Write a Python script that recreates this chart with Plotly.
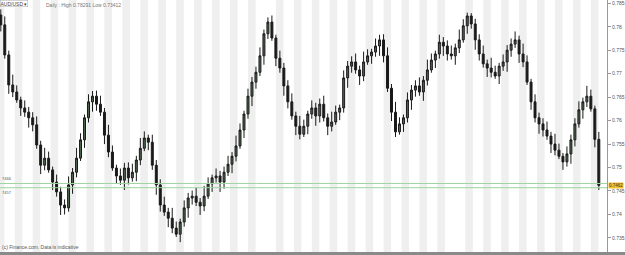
import plotly.graph_objects as go

# ---- data ----
first_open = 0.7825
closes = [0.7804, 0.7740, 0.7676, 0.7661, 0.7644, 0.7627, 0.7618, 0.7606, 0.7591, 0.7548,
          0.7505, 0.7520, 0.7495, 0.7469, 0.7448, 0.7420, 0.7414, 0.7463, 0.7490, 0.7520,
          0.7559, 0.7606, 0.7640, 0.7652, 0.7635, 0.7618, 0.7569, 0.7533, 0.7499, 0.7482,
          0.7473, 0.7499, 0.7478, 0.7490, 0.7516, 0.7541, 0.7563, 0.7554, 0.7505, 0.7463,
          0.7420, 0.7405, 0.7392, 0.7371, 0.7358, 0.7384, 0.7414, 0.7435, 0.7439, 0.7426,
          0.7418, 0.7439, 0.7465, 0.7478, 0.7482, 0.7469, 0.7490, 0.7507, 0.7524, 0.7546,
          0.7580, 0.7614, 0.7652, 0.7682, 0.7703, 0.7738, 0.7785, 0.7810, 0.7776, 0.7733,
          0.7712, 0.7674, 0.7640, 0.7610, 0.7588, 0.7571, 0.7588, 0.7614, 0.7627, 0.7610,
          0.7635, 0.7606, 0.7588, 0.7597, 0.7618, 0.7627, 0.7691, 0.7716, 0.7725, 0.7708,
          0.7695, 0.7725, 0.7738, 0.7746, 0.7759, 0.7772, 0.7738, 0.7669, 0.7618, 0.7576,
          0.7593, 0.7606, 0.7644, 0.7665, 0.7674, 0.7661, 0.7686, 0.7708, 0.7729, 0.7742,
          0.7767, 0.7759, 0.7742, 0.7738, 0.7755, 0.7772, 0.7802, 0.7823, 0.7806, 0.7772,
          0.7742, 0.7721, 0.7712, 0.7703, 0.7695, 0.7716, 0.7725, 0.7750, 0.7763, 0.7772,
          0.7742, 0.7725, 0.7682, 0.7640, 0.7606, 0.7593, 0.7580, 0.7567, 0.7550, 0.7537,
          0.7524, 0.7512, 0.7529, 0.7559, 0.7593, 0.7623, 0.7640, 0.7652, 0.7625, 0.7560,
          0.7462]
highs = [0.7837, 0.7822, 0.7749, 0.7698, 0.7675, 0.7651, 0.7643, 0.7629, 0.7618, 0.7609,
         0.7557, 0.7542, 0.7534, 0.7502, 0.7485, 0.7459, 0.7432, 0.7481, 0.7499, 0.7542,
         0.7573, 0.7613, 0.7656, 0.7663, 0.7664, 0.7653, 0.7627, 0.7591, 0.7547, 0.7506,
         0.7498, 0.7510, 0.7511, 0.7508, 0.7525, 0.7563, 0.7577, 0.7570, 0.7570, 0.7516,
         0.7475, 0.7438, 0.7414, 0.7414, 0.7385, 0.7391, 0.7430, 0.7446, 0.7451, 0.7457,
         0.7435, 0.7461, 0.7479, 0.7485, 0.7498, 0.7493, 0.7502, 0.7525, 0.7533, 0.7568,
         0.7594, 0.7621, 0.7668, 0.7693, 0.7715, 0.7756, 0.7794, 0.7820, 0.7824, 0.7783,
         0.7749, 0.7723, 0.7686, 0.7658, 0.7619, 0.7610, 0.7602, 0.7621, 0.7643, 0.7638,
         0.7647, 0.7653, 0.7615, 0.7619, 0.7632, 0.7634, 0.7707, 0.7727, 0.7737, 0.7743,
         0.7717, 0.7747, 0.7752, 0.7753, 0.7775, 0.7783, 0.7784, 0.7756, 0.7678, 0.7640,
         0.7607, 0.7613, 0.7660, 0.7676, 0.7686, 0.7692, 0.7695, 0.7730, 0.7743, 0.7749,
         0.7783, 0.7778, 0.7771, 0.7760, 0.7764, 0.7794, 0.7816, 0.7830, 0.7829, 0.7817,
         0.7784, 0.7760, 0.7730, 0.7734, 0.7717, 0.7723, 0.7741, 0.7761, 0.7775, 0.7790,
         0.7781, 0.7764, 0.7739, 0.7689, 0.7656, 0.7617, 0.7605, 0.7598, 0.7576, 0.7572,
         0.7551, 0.7531, 0.7545, 0.7570, 0.7605, 0.7641, 0.7649, 0.7674, 0.7666, 0.7632,
         0.7576]
lows = [0.7790, 0.7732, 0.7657, 0.7650, 0.7638, 0.7610, 0.7608, 0.7585, 0.7577, 0.7540,
        0.7486, 0.7494, 0.7489, 0.7452, 0.7438, 0.7399, 0.7400, 0.7406, 0.7444, 0.7479,
        0.7514, 0.7542, 0.7596, 0.7619, 0.7621, 0.7610, 0.7550, 0.7522, 0.7493, 0.7465,
        0.7463, 0.7452, 0.7464, 0.7470, 0.7471, 0.7505, 0.7535, 0.7537, 0.7495, 0.7442,
        0.7406, 0.7397, 0.7373, 0.7360, 0.7352, 0.7341, 0.7374, 0.7393, 0.7421, 0.7418,
        0.7399, 0.7407, 0.7433, 0.7448, 0.7468, 0.7448, 0.7455, 0.7482, 0.7488, 0.7513,
        0.7540, 0.7563, 0.7604, 0.7631, 0.7668, 0.7695, 0.7719, 0.7774, 0.7770, 0.7716,
        0.7702, 0.7653, 0.7626, 0.7602, 0.7569, 0.7560, 0.7565, 0.7571, 0.7604, 0.7589,
        0.7596, 0.7598, 0.7569, 0.7577, 0.7591, 0.7601, 0.7617, 0.7670, 0.7702, 0.7700,
        0.7676, 0.7684, 0.7719, 0.7721, 0.7736, 0.7738, 0.7724, 0.7661, 0.7599, 0.7565,
        0.7570, 0.7576, 0.7596, 0.7623, 0.7651, 0.7653, 0.7642, 0.7675, 0.7702, 0.7712,
        0.7732, 0.7738, 0.7728, 0.7730, 0.7719, 0.7744, 0.7766, 0.7785, 0.7796, 0.7751,
        0.7728, 0.7713, 0.7693, 0.7692, 0.7689, 0.7678, 0.7706, 0.7704, 0.7736, 0.7755,
        0.7723, 0.7714, 0.7676, 0.7623, 0.7596, 0.7572, 0.7566, 0.7559, 0.7531, 0.7526,
        0.7518, 0.7495, 0.7502, 0.7508, 0.7545, 0.7585, 0.7604, 0.7629, 0.7619, 0.7543,
        0.7452]
opens = [first_open] + closes[:-1]
idx = list(range(len(closes)))

level_lines = [0.7466, 0.7457]
band_starts = [-1.0, 3.5, 8.0, 12.5, 17.0, 21.5, 26.0, 30.5, 35.0, 39.5, 44.0, 48.5, 53.0,
               57.5, 62.0, 69.0, 73.5, 78.0, 82.5, 87.0, 91.5, 96.0, 100.5, 105.0, 109.5,
               116.5, 121.0, 125.5, 130.0, 134.5, 139.0, 143.5, 148.0]
band_width = 1.9

fig = go.Figure()
fig.add_trace(go.Candlestick(
    x=idx, open=opens, high=highs, low=lows, close=closes,
    increasing=dict(line=dict(color="#1a1a1a", width=1), fillcolor="#4d654d"),
    decreasing=dict(line=dict(color="#1a1a1a", width=1), fillcolor="#1a1a1a"),
    whiskerwidth=0, showlegend=False, hoverinfo="skip"))

shapes = []
for b in band_starts:
    shapes.append(dict(type="rect", xref="x", yref="paper", x0=b, x1=b + band_width,
                       y0=0, y1=1, fillcolor="#efefef", line=dict(width=0), layer="below"))
for lv in level_lines:
    shapes.append(dict(type="line", xref="paper", yref="y", x0=0, x1=1, y0=lv, y1=lv,
                       line=dict(color="#9fd49f", width=1)))
shapes.append(dict(type="rect", xref="paper", yref="paper", x0=0, x1=1.03,
                   y0=-0.012, y1=0, fillcolor="#8a8a8a", line=dict(width=0)))

annotations = [
    dict(xref="paper", yref="paper", x=0.0, y=1.0, xanchor="left", yanchor="top",
         text="AUD/USD ▾", showarrow=False, font=dict(size=5, color="#444", family="Arial"),
         bgcolor="white", bordercolor="#aaa", borderwidth=0.5, borderpad=0),
    dict(xref="paper", yref="paper", x=0.072, y=1.0, xanchor="left", yanchor="top",
         text="Daily : High 0.78291 Low 0.73412", showarrow=False,
         font=dict(size=5, color="#777", family="Arial")),
    dict(xref="paper", yref="paper", x=0.0, y=0.0, xanchor="left", yanchor="bottom",
         text="(c) Finance.com. Data is indicative", showarrow=False,
         font=dict(size=5, color="#555", family="Arial")),
    dict(xref="paper", yref="y", x=0.0, y=level_lines[0], xanchor="left", yanchor="bottom",
         text="7466", showarrow=False, font=dict(size=4, color="#555", family="Arial")),
    dict(xref="paper", yref="y", x=0.0, y=level_lines[1], xanchor="left", yanchor="top",
         text="7457", showarrow=False, font=dict(size=4, color="#555", family="Arial")),
    dict(xref="paper", yref="y", x=1.0, y=closes[-1], xanchor="left", yanchor="middle",
         text="0.7462", showarrow=False, font=dict(size=4.5, color="#333", family="Arial"),
         bgcolor="#f2c12e", borderpad=0, xshift=1),
]

fig.update_layout(
    width=625, height=255,
    margin=dict(l=0, r=16, t=0, b=3),
    paper_bgcolor="white", plot_bgcolor="white",
    shapes=shapes, annotations=annotations,
    xaxis=dict(range=[-0.2, 152.05], showticklabels=False, showgrid=False, zeroline=False,
               rangeslider=dict(visible=False), fixedrange=True),
    yaxis=dict(range=[0.7320, 0.7857], side="right", dtick=0.005, tick0=0.735,
               showgrid=False, zeroline=False, showline=True, linecolor="#999", linewidth=1,
               ticks="outside", ticklen=3, tickcolor="#999",
               tickfont=dict(size=5, color="#555", family="Arial")),
)

fig.write_html("out.html")
